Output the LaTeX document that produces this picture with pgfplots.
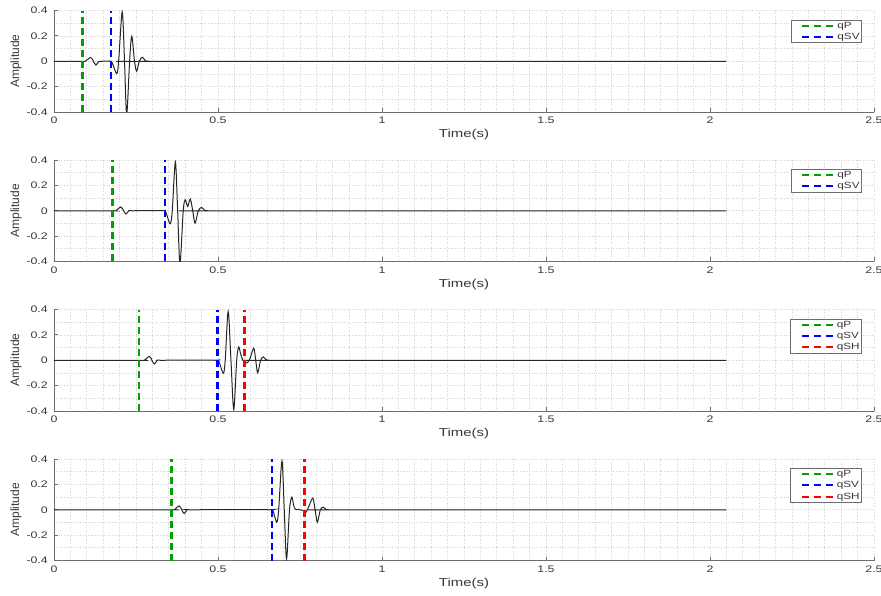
\documentclass[border=0pt]{standalone}
\usepackage{pgfplots}
\pgfplotsset{compat=1.18}
\usepackage{fontspec}
\setmainfont[FakeStretch=1.3]{Liberation Sans}
\newfontfamily\ylabfont{Liberation Sans}
\definecolor{qpgreen}{RGB}{0,160,0}
\definecolor{axgray}{RGB}{110,110,110}
\definecolor{txtgray}{RGB}{55,55,55}
\definecolor{gridgray}{RGB}{212,212,212}
\pgfplotsset{
 panel/.style={
  scale only axis, width=820pt, height=101.5pt,
  anchor=south west,
  xmin=0, xmax=2.5, ymin=-0.4, ymax=0.4,
  axis lines*=left,
  axis line style={axgray, line width=0.9pt},
  xtick={0,0.5,1,1.5,2,2.5}, xticklabels={0,0.5,1,1.5,2,2.5},
  ytick={-0.4,-0.2,0,0.2,0.4}, yticklabels={-0.4,-0.2,0,0.2,0.4},
  minor x tick num=9, minor y tick num=1,
  grid=both,
  major grid style={gridgray, dotted, line width=0.7pt},
  minor grid style={gridgray, dotted, line width=0.7pt},
  tick align=inside, major tick length=4pt, minor tick length=0pt,
  tick style={axgray, line width=0.9pt},
  ticklabel style={font=\fontsize{9.5}{10}\selectfont, text=txtgray},
  xticklabel style={anchor=north, inner sep=0pt, yshift=-5pt},
  yticklabel style={anchor=east, inner sep=0pt, xshift=-6pt},
  xlabel={Time(s)}, ylabel={Amplitude},
  xlabel style={at={(axis description cs:0.5,-0.2266)}, anchor=center, inner sep=0pt, font=\fontsize{11.5}{12}\selectfont, text=txtgray},
  ylabel style={at={(axis description cs:-0.0463,0.5)}, anchor=center, inner sep=0pt, font=\ylabfont\fontsize{12}{13}\selectfont, text=txtgray},
  legend style={at={(axis description cs:1,1)}, anchor=north east, xshift=-12pt, yshift=-9pt,
    draw=axgray, line width=0.8pt, fill=white, font=\fontsize{9}{10}\selectfont, text=txtgray,
    inner sep=1pt, row sep=1.5pt, nodes={inner sep=1pt}},
  legend cell align=left,
  legend image code/.code={\path (-9pt,0pt); \draw[##1, line width=2pt, dash pattern=on 7pt off 5pt] (0pt,0pt) -- (33pt,0pt);},
 },
 wave/.style={black!85, line width=1pt, smooth, forget plot},
 vl/.style={line width=2.6pt, dash pattern=on 7pt off 4pt},
}
\begin{document}
\begin{tikzpicture}
\useasboundingbox (0pt,0pt) rectangle (881pt,595pt);
% ---------- panel 1 ----------
\begin{axis}[panel, at={(54pt,483pt)}]
\addplot[wave] coordinates {(0,0) (0.085,0) (0.095,0) (0.112,0.03) (0.12,0) (0.128,-0.03) (0.137,0) (0.147,0)
 (0.165,0) (0.176,-0.005) (0.191,-0.097) (0.197,0) (0.208,0.39) (0.215,0) (0.2216,-0.42) (0.2305,0) (0.237,0.198)
 (0.2455,0) (0.252,-0.079) (0.26,0) (0.269,0.032) (0.279,0.003) (0.289,0) (0.299,0) (2.05,0)};
\addplot[qpgreen, vl] coordinates {(0.086,-0.4) (0.086,0.4)};
\addlegendentry{qP}
\addplot[blue, vl] coordinates {(0.174,-0.4) (0.174,0.4)};
\addlegendentry{qSV}
\end{axis}
% ---------- panel 2 ----------
\begin{axis}[panel, at={(54pt,333.5pt)}]
\addplot[wave] coordinates {(0,0) (0.178,0) (0.188,0) (0.204,0.03) (0.212,0) (0.2195,-0.026) (0.228,0) (0.238,0)
 (0.33,0) (0.34,-0.005) (0.354,-0.103) (0.3605,0) (0.370,0.385) (0.377,0) (0.384,-0.42) (0.394,0) (0.400,0.087)
 (0.4075,0.034) (0.4155,0.092) (0.423,0) (0.43,-0.098) (0.44,0) (0.450,0.026) (0.46,0.003) (0.47,0) (0.48,0) (2.05,0)};
\addplot[qpgreen, vl] coordinates {(0.179,-0.4) (0.179,0.4)};
\addlegendentry{qP}
\addplot[blue, vl] coordinates {(0.338,-0.4) (0.338,0.4)};
\addlegendentry{qSV}
\end{axis}
% ---------- panel 3 ----------
\begin{axis}[panel, at={(54pt,184pt)}]
\addplot[wave] coordinates {(0,0) (0.265,0) (0.275,0) (0.291,0.03) (0.2985,0) (0.306,-0.03) (0.315,0) (0.325,0)
 (0.49,0) (0.502,-0.005) (0.516,-0.103) (0.522,0) (0.531,0.385) (0.5395,0) (0.548,-0.388) (0.557,0) (0.563,0.105)
 (0.569,0.05) (0.576,0) (0.582,-0.015) (0.589,-0.02) (0.597,0.01) (0.609,0.095) (0.615,0) (0.621,-0.098) (0.63,0)
 (0.638,0.026) (0.647,0.003) (0.656,0) (0.666,0) (2.05,0)};
\addplot[qpgreen, vl] coordinates {(0.259,-0.4) (0.259,0.4)};
\addlegendentry{qP}
\addplot[blue, vl] coordinates {(0.499,-0.4) (0.499,0.4)};
\addlegendentry{qSV}
\addplot[red, vl] coordinates {(0.580,-0.4) (0.580,0.4)};
\addlegendentry{qSH}
\end{axis}
% ---------- panel 4 ----------
\begin{axis}[panel, at={(54pt,34.5pt)}]
\addplot[wave] coordinates {(0,0) (0.355,0) (0.366,0) (0.382,0.03) (0.3895,0) (0.397,-0.03) (0.406,0) (0.416,0)
 (0.655,0) (0.667,-0.005) (0.679,-0.098) (0.685,0) (0.695,0.385) (0.702,0) (0.709,-0.388) (0.718,0) (0.725,0.1)
 (0.731,0.03) (0.737,0.003) (0.75,0) (0.76,-0.005) (0.767,-0.025) (0.776,0.02) (0.789,0.092) (0.796,0) (0.803,-0.098)
 (0.812,0) (0.821,0.02) (0.83,0.002) (0.838,0) (0.848,0) (2.05,0)};
\addplot[qpgreen, vl] coordinates {(0.359,-0.4) (0.359,0.4)};
\addlegendentry{qP}
\addplot[blue, vl] coordinates {(0.665,-0.4) (0.665,0.4)};
\addlegendentry{qSV}
\addplot[red, vl] coordinates {(0.764,-0.4) (0.764,0.4)};
\addlegendentry{qSH}
\end{axis}
\end{tikzpicture}
\end{document}
